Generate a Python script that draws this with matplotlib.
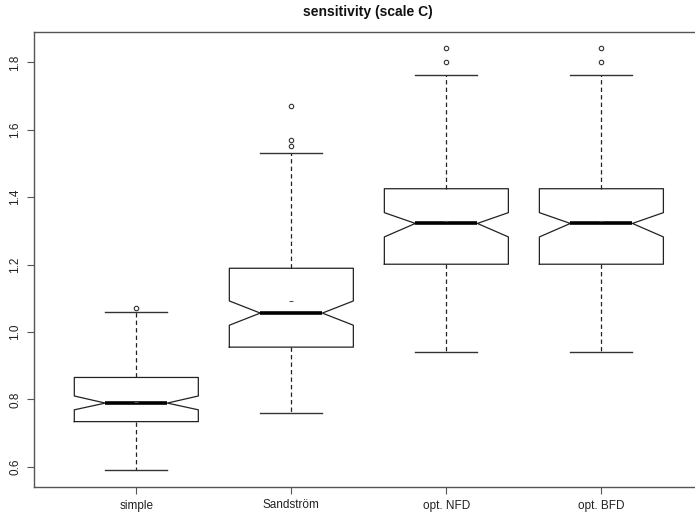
import matplotlib
matplotlib.use("Agg")
import matplotlib.pyplot as plt

categories = ["simple", "Sandström", "opt. NFD", "opt. BFD"]
whislo = [0.590, 0.760, 0.940, 0.940]
q1 = [0.734, 0.955, 1.201, 1.201]
med = [0.789, 1.056, 1.322, 1.322]
q3 = [0.865, 1.189, 1.425, 1.425]
whishi = [1.060, 1.531, 1.762, 1.762]
cilo = [0.769, 1.020, 1.282, 1.282]
cihi = [0.810, 1.092, 1.354, 1.354]
means = [0.793, 1.092, 1.328, 1.328]
fliers = [[1.070], [1.551, 1.570, 1.670], [1.800, 1.844], [1.800, 1.844]]
yticks = [0.6, 0.8, 1.0, 1.2, 1.4, 1.6, 1.8]

plt.rcParams['font.family'] = ['Liberation Sans', 'DejaVu Sans']

stats = []
for i, lab in enumerate(categories):
    stats.append(dict(label=lab, whislo=whislo[i], q1=q1[i], med=med[i], q3=q3[i],
                      whishi=whishi[i], cilo=cilo[i], cihi=cihi[i], mean=means[i],
                      fliers=fliers[i]))

fig = plt.figure(figsize=(6.95, 5.15), dpi=100)
ax = fig.add_axes([34/695, 1-487/515, (703.7-34)/695, (487-32)/515])

ax.bxp(stats, positions=[1, 2, 3, 4], widths=0.8, shownotches=True, showmeans=True,
       boxprops=dict(color='#222222', linewidth=0.9),
       whiskerprops=dict(color='#222222', linewidth=0.9, linestyle=(0, (3.5, 2.5))),
       capprops=dict(color='#333333', linewidth=1.0),
       capwidths=0.4,
       medianprops=dict(color='black', linewidth=2.6),
       meanprops=dict(marker='_', markeredgecolor='#555555', markersize=3, markeredgewidth=0.8),
       flierprops=dict(marker='o', markerfacecolor='none', markeredgecolor='#333333',
                       markersize=3.2, markeredgewidth=0.8))

ax.set_xlim(0.34, 4.66)
ax.set_ylim(0.54, 1.89)
ax.set_xticks([1, 2, 3, 4])
ax.set_xticklabels(categories, fontsize=8.5, color='#222222')
ax.set_yticks(yticks)
ax.set_yticklabels([f"{v:.1f}" for v in yticks], fontsize=8.5, rotation=90, va='center',
                   color='#222222')
ax.tick_params(axis='both', direction='out', length=5, width=0.8, color='#555555', pad=4)
for s in ax.spines.values():
    s.set_color('#555555')
    s.set_linewidth(1.0)

fig.text(368/695, 1-12/515, "sensitivity (scale C)", ha='center', va='center',
         fontsize=10, fontweight='bold', color='#111111')

fig.savefig("out.png", dpi=100)
